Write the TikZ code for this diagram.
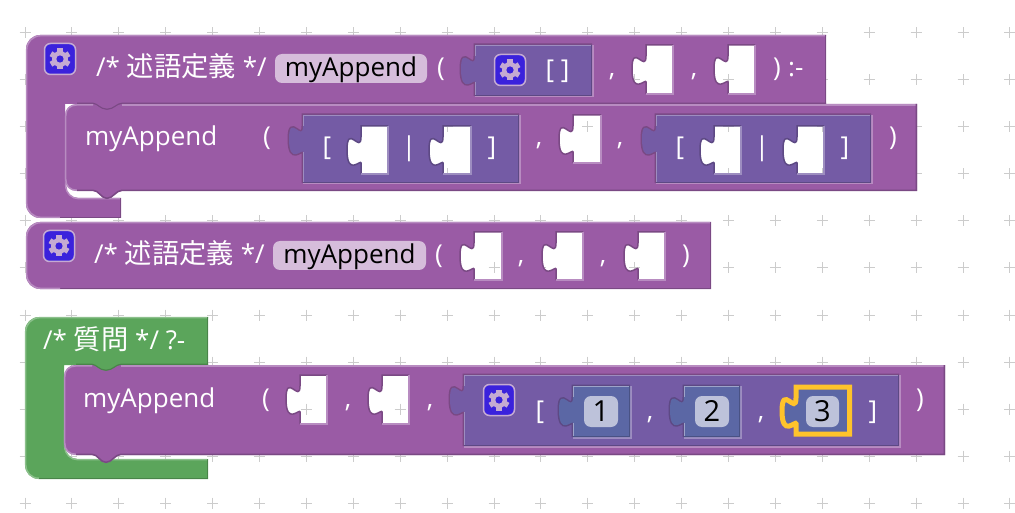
\documentclass[tikz,border=0pt]{standalone}
\usepackage{fontspec}
\setmainfont{Open Sans}
\newfontfamily\cjk[Scale=1.05]{Noto Sans CJK JP}
\definecolor{pur}{HTML}{9A5BA5}
\definecolor{purlt}{HTML}{B88CC1}
\definecolor{purdk}{HTML}{7A4984}
\definecolor{vio}{HTML}{745BA5}
\definecolor{violt}{HTML}{9D8DC0}
\definecolor{viodk}{HTML}{5D4984}
\definecolor{blu}{HTML}{5B67A5}
\definecolor{blult}{HTML}{9DA4C9}
\definecolor{bludk}{HTML}{495284}
\definecolor{grn}{HTML}{5BA55B}
\definecolor{grnlt}{HTML}{8CC08C}
\definecolor{grndk}{HTML}{498449}
\definecolor{pillp}{HTML}{D6BDDB}
\definecolor{pilln}{HTML}{BDC2DA}
\definecolor{ico}{HTML}{3A22DC}
\definecolor{icoln}{HTML}{C5ABD2}
\definecolor{yel}{HTML}{FFC32B}
\tikzset{
  x=1pt,y=-1pt,
  gridl/.style={draw=black!20,line width=1pt},
  edge/.style={line width=1.5pt},
  lbl/.style={text=white,inner sep=0pt,anchor=base,font=\fontsize{26}{30}\selectfont},
  lblw/.style={lbl,anchor=base west},
  lblk/.style={lbl,text=black},
  lbld/.style={lblk,font=\fontsize{29}{32}\selectfont},
}
\def\tabd#1#2{-- (#1,#2+11) .. controls (#1,#2+28.5) and (#1-14,#2-3) .. (#1-14,#2+24) .. controls (#1-14,#2+51) and (#1,#2+33) .. (#1,#2+37)}
\newcommand\gridcr{\foreach \i in {0,...,21}{\foreach \j in {0,...,10}{
  \draw[gridl] ({25+46.9*\i-5.5},{33+47*\j}) -- +(11,0) ({25+46.9*\i},{33+47*\j-5.5}) -- +(0,11);}}}
\newcommand\holeat[6]{%
  \fill[white] (#1,#2) \tabd{#1}{#2} -- (#1,#2+#4) -- (#1+#3,#2+#4) -- (#1+#3,#2) -- cycle;
  \begin{scope}
    \clip (#1,#2) \tabd{#1}{#2} -- (#1,#2+#4) -- (#1+#3,#2+#4) -- (#1+#3,#2) -- cycle;
    \gridcr
  \end{scope}
  \draw[edge,#5] (#1+#3,#2) -- (#1,#2) \tabd{#1}{#2} -- (#1,#2+#4);
  \draw[edge,#6] (#1,#2+#4) -- (#1+#3,#2+#4) -- (#1+#3,#2);
}
\newcommand\vblock[9]{%
  \draw[line width=3pt,#8] (#1+#3,#2) -- (#1,#2) \tabd{#1}{#2} -- (#1,#2+#4);
  \draw[line width=3pt,#9] (#1,#2+#4) -- (#1+#3,#2+#4) -- (#1+#3,#2);
  \fill[#5] (#1,#2) \tabd{#1}{#2} -- (#1,#2+#4) -- (#1+#3,#2+#4) -- (#1+#3,#2) -- cycle;
  \draw[edge,#6] (#1+#3-1,#2+.7) -- (#1+.7,#2+.7) -- (#1+.7,#2+11);
  \draw[edge,#6] (#1+.7,#2+37) -- (#1+.7,#2+#4-1);
  \draw[edge,#7] (#1,#2+#4-.7) -- (#1+#3-.7,#2+#4-.7) -- (#1+#3-.7,#2);
}
\newcommand\gearicon[2]{%
  \fill[ico,draw=icoln,line width=1.5pt,rounded corners=6pt] (#1-15.5,#2-15.5) rectangle (#1+15.5,#2+15.5);
  \foreach \a in {30,90,...,330}{\fill[icoln,rotate around={\a:(#1,#2)}] (#1+7,#2-2.7) rectangle (#1+10.5,#2+2.7);}
  \fill[icoln] (#1,#2) circle[radius=8];
  \fill[ico] (#1,#2) circle[radius=3.6];
}
\newcommand\stmtblock[4]{%
  \fill[pur] (#1+12,#2) .. controls (#1+5,#2) and (#1,#2+5) .. (#1,#2+12) -- (#1,#4-12) .. controls (#1,#4-5) and (#1+5,#4) .. (#1+12,#4) -- (#1+28,#4) .. controls (#1+34,#4) and (#1+36,#4+8) .. (#1+42,#4+8) .. controls (#1+48,#4+8) and (#1+51,#4) .. (#1+57,#4) -- (#3,#4) -- (#3,#2) -- (#1+57,#2) .. controls (#1+52,#2) and (#1+49,#2+6) .. (#1+42,#2+6) .. controls (#1+35,#2+6) and (#1+32,#2) .. (#1+28,#2) -- cycle;
  \draw[edge,purlt] (#1+28,#2+.9) -- (#1+12,#2+.9) .. controls (#1+5,#2+.9) and (#1+.7,#2+5) .. (#1+.7,#2+12) -- (#1+.7,#4-12) .. controls (#1+.7,#4-5) and (#1+5,#4-.7) .. (#1+12,#4-.7);
  \draw[edge,purlt] (#1+57,#2+1.2) -- (#3-1,#2+1.2);
  \draw[edge,purdk] (#1+12,#4-.7) -- (#1+28,#4-.7) .. controls (#1+34,#4-.7) and (#1+36,#4+7.3) .. (#1+42,#4+7.3) .. controls (#1+48,#4+7.3) and (#1+51,#4-.7) .. (#1+57,#4-.7) -- (#3-.7,#4-.7) -- (#3-.7,#2);
}
\begin{document}
\begin{tikzpicture}
\useasboundingbox (0,0) rectangle (1015,513);
\fill[white] (0,0) rectangle (1015,513);
\gridcr

% ---------- block A outer
\fill[pur] (100,35) [rounded corners=14pt] -- (26,35) -- (26,218) [sharp corners] -- (121,218) -- (121,198) [rounded corners=13pt] -- (65,198) -- (65,150) [sharp corners] -- (65,104) -- (826,104) -- (826,35) -- cycle;
\fill[pur] (90,100) rectangle (125,112);
\draw[edge,purlt] (826,35.7) -- (100,35.7) [rounded corners=14pt] -- (26.7,35.7) -- (26.7,217.3) -- (60,217.3);
\draw[edge,purdk] (60,217.3) -- (120.3,217.3) -- (120.3,198);
\draw[edge,purlt] (120,198.7) [rounded corners=13pt] -- (65.7,198.7) -- (65.7,170);
\draw[edge,purdk] (825.3,35) -- (825.3,104);
\draw[edge,purdk] (77,103.4) -- (93,103.4) .. controls (97,103.4) and (100,109.4) .. (107,109.4) .. controls (114,109.4) and (117,103.4) .. (122,103.4) -- (826,103.4);
\stmtblock{65}{104}{917}{191}

% ---------- block B
\fill[pur] (100,222) [rounded corners=14pt] -- (26,222) -- (26,289) [sharp corners] -- (711,289) -- (711,222) -- cycle;
\draw[edge,purdk] (60,288.3) -- (710.3,288.3) -- (710.3,222);
\draw[edge,purlt] (710,222.7) -- (100,222.7) [rounded corners=14pt] -- (26.7,222.7) -- (26.7,288.3) -- (60,288.3);

% ---------- block C green
\fill[grn] (100,317) [rounded corners=14pt] -- (25,317) -- (25,479) [sharp corners] -- (208,479) -- (208,459) [rounded corners=13pt] -- (64,459) -- (64,420) [sharp corners] -- (64,365) -- (208,365) -- (208,317) -- cycle;
\fill[grn] (90,360) rectangle (124,373);
\draw[edge,grnlt] (208,317.7) -- (100,317.7) [rounded corners=14pt] -- (25.7,317.7) -- (25.7,440);
\draw[edge,grnlt] (25.7,440) -- (25.7,465) .. controls (25.7,472) and (31,478.3) .. (39,478.3);
\draw[edge,grndk] (39,478.3) -- (207.3,478.3) -- (207.3,459);
\draw[edge,grndk] (207.3,317) -- (207.3,365);
\draw[edge,grnlt] (207,459.7) [rounded corners=13pt] -- (64.7,459.7) -- (64.7,430);
\draw[edge,grndk] (76,364.4) -- (92,364.4) .. controls (96,364.4) and (99,370.4) .. (106,370.4) .. controls (113,370.4) and (116,364.4) .. (121,364.4) -- (208,364.4);
\stmtblock{64}{365}{945}{455}

% ---------- row 1 content
\gearicon{60}{59}
\node[lblw] (a1) at (96,77) {/* {\cjk 述語定義} */};
\fill[pillp,rounded corners=7pt] (275,54) rectangle (427,83);
\node[lblk] (a2) at (351,77) {myAppend};
\node[lbl] (a3) at (441,77) {(};
\vblock{475}{45}{117}{51}{vio}{violt}{viodk}{purdk}{purlt}
\gearicon{510}{70}
\node[lbl] (a4) at (557.5,79) {[ ]};
\node[lbl] (a5) at (612,77) {,};
\holeat{646}{45}{27}{49}{purdk}{purlt}
\node[lbl] (a6) at (694,77) {,};
\holeat{728}{45}{27}{49}{purdk}{purlt}
\node[lbl] (a7) at (777,77) {)};
\node[lblw] (a8) at (788,77) {:-};

% ---------- row 2 content
\node[lblw] (b1) at (85,146) {myAppend};
\node[lbl] (b2) at (267,146) {(};
\vblock{303}{115}{216}{68}{vio}{violt}{viodk}{purdk}{purlt}
\node[lbl] (b3) at (327,156) {[};
\holeat{361}{126}{27}{48}{viodk}{violt}
\node[lbl] (b4) at (409,156) {|};
\holeat{443}{126}{28}{48}{viodk}{violt}
\node[lbl] (b5) at (492,156) {]};
\node[lbl] (b6) at (539,146) {,};
\holeat{573}{115}{28}{48}{purdk}{purlt}
\node[lbl] (b7) at (620,146) {,};
\vblock{656}{115}{215}{68}{vio}{violt}{viodk}{purdk}{purlt}
\node[lbl] (b8) at (680,156) {[};
\holeat{714}{126}{27}{48}{viodk}{violt}
\node[lbl] (b9) at (762,156) {|};
\holeat{797}{126}{27}{48}{viodk}{violt}
\node[lbl] (b10) at (845,156) {]};
\node[lbl] (b11) at (893,146) {)};

% ---------- block B content
\gearicon{59}{246}
\node[lblw] (c1) at (94,264) {/* {\cjk 述語定義} */};
\fill[pillp,rounded corners=7pt] (273,241) rectangle (426,270);
\node[lblk] (c2) at (349.5,264) {myAppend};
\node[lbl] (c3) at (439,264) {(};
\holeat{474}{232}{28}{48}{purdk}{purlt}
\node[lbl] (c4) at (521,264) {,};
\holeat{556}{232}{27}{48}{purdk}{purlt}
\node[lbl] (c5) at (603,264) {,};
\holeat{638}{232}{27}{48}{purdk}{purlt}
\node[lbl] (c6) at (686,264) {)};

% ---------- block C content
\node[lblw] (d1) at (43,349) {/* {\cjk 質問} */ ?-};
\node[lblw] (d2) at (83,407) {myAppend};
\node[lbl] (d3) at (266,407) {(};
\holeat{300}{375}{27}{49}{purdk}{purlt}
\node[lbl] (d4) at (348,407) {,};
\holeat{382}{375}{27}{49}{purdk}{purlt}
\node[lbl] (d5) at (430,407) {,};
\vblock{464}{375}{435}{71}{vio}{violt}{viodk}{purdk}{purlt}
\gearicon{499}{400}
\node[lbl] (d6) at (540,419) {[};
\vblock{573}{386}{57}{51}{blu}{blult}{bludk}{viodk}{violt}
\fill[pilln,rounded corners=7pt] (584,396) rectangle (618,427);
\node[lbld] (d7) at (601,421) {1};
\node[lbl] (d8) at (650,419) {,};
\vblock{684}{386}{56}{51}{blu}{blult}{bludk}{viodk}{violt}
\fill[pilln,rounded corners=7pt] (695,396) rectangle (729,427);
\node[lbld] (d9) at (712,421) {2};
\node[lbl] (d10) at (761,419) {,};
\fill[blu] (796,387) \tabd{796}{387} -- (796,434) -- (849,434) -- (849,387) -- cycle;
\draw[line width=5pt,yel] (796,387) \tabd{796}{387} -- (796,434) -- (849.5,434) -- (849.5,387) -- cycle;
\fill[pilln,rounded corners=7pt] (806,396) rectangle (839,427);
\node[lbld] (d11) at (822.5,421) {3};
\node[lbl] (d12) at (873,419) {]};
\node[lbl] (d13) at (920,407) {)};
\end{tikzpicture}
\end{document}
